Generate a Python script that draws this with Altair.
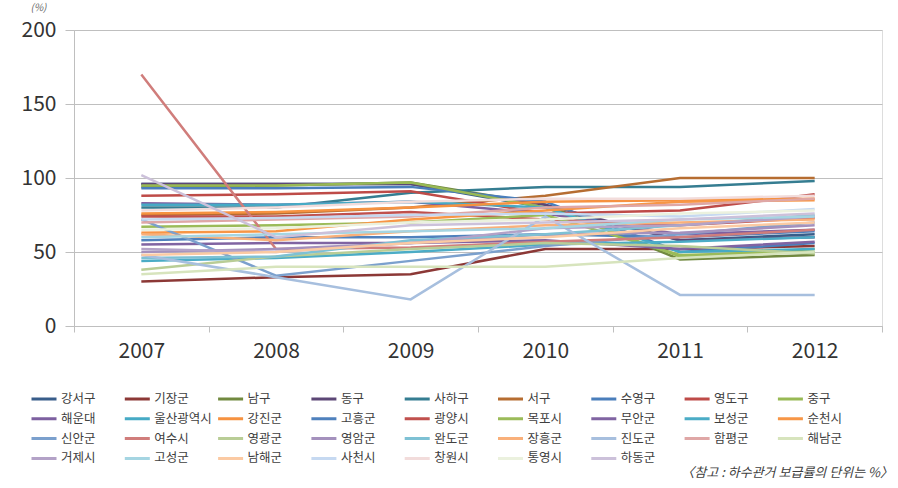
import altair as alt
import pandas as pd

years = ["2007", "2008", "2009", "2010", "2011", "2012"]

names = ["강서구", "기장군", "남구", "동구", "사하구", "서구", "수영구", "영도구", "중구",
         "해운대", "울산광역시", "강진군", "고흥군", "광양시", "목포시", "무안군", "보성군", "순천시",
         "신안군", "여수시", "영광군", "영암군", "완도군", "장흥군", "진도군", "함평군", "해남군",
         "거제시", "고성군", "남해군", "사천시", "창원시", "통영시", "하동군"]

colors = ["#385D8A", "#8C3836", "#71893F", "#5C4776", "#357D91", "#B66D31", "#4A7EBB", "#BE4B48", "#98B954",
          "#7D60A0", "#46AAC5", "#F69240", "#4F81BD", "#C0504D", "#9BBB59", "#8064A2", "#4BACC6", "#F79646",
          "#7BA0CD", "#D07D7B", "#B9CD96", "#A491BD", "#7EC1D4", "#F9B07A", "#A7BFDE", "#DFA7A6", "#D7E4BD",
          "#B3A2C7", "#A5D5E2", "#FBCAA3", "#C6D9F1", "#F2DCDB", "#EBF1DE", "#CCC1DA"]

values = [
    [96, 96, 96, 80, 58, 62],    # 강서구
    [30, 33, 35, 52, 52, 54],    # 기장군
    [94, 95, 97, 82, 45, 48],    # 남구
    [96, 96, 96, 82, 58, 60],    # 동구
    [80, 80, 90, 94, 94, 98],    # 사하구
    [75, 76, 80, 88, 100, 100],  # 서구
    [93, 93, 94, 84, 50, 56],    # 수영구
    [88, 89, 91, 76, 78, 89],    # 영도구
    [95, 95, 97, 80, 47, 52],    # 중구
    [83, 82, 84, 76, 62, 65],    # 해운대
    [82, 82, 84, 80, 50, 52],    # 울산광역시
    [76, 77, 80, 84, 85, 86],    # 강진군
    [58, 60, 60, 62, 60, 64],    # 고흥군
    [74, 74, 77, 72, 68, 73],    # 광양시
    [67, 68, 70, 75, 48, 50],    # 목포시
    [55, 56, 56, 58, 52, 57],    # 무안군
    [44, 46, 50, 55, 57, 60],    # 보성군
    [63, 64, 72, 78, 84, 85],    # 순천시
    [72, 34, 44, 54, 62, 70],    # 신안군
    [170, 52, 53, 57, 60, 65],   # 여수시
    [38, 47, 52, 56, 54, 49],    # 영광군
    [50, 52, 56, 62, 63, 68],    # 영암군
    [46, 47, 58, 62, 68, 75],    # 완도군
    [62, 58, 64, 68, 70, 72],    # 장흥군
    [48, 33, 18, 74, 21, 21],    # 진도군
    [70, 72, 74, 80, 82, 86],    # 함평군
    [35, 40, 40, 40, 46, 50],    # 해남군
    [52, 50, 56, 66, 68, 74],    # 거제시
    [60, 62, 64, 66, 72, 74],    # 고성군
    [48, 50, 56, 60, 66, 70],    # 남해군
    [72, 73, 75, 76, 74, 79],    # 사천시
    [78, 80, 84, 86, 86, 88],    # 창원시
    [65, 66, 70, 72, 76, 78],    # 통영시
    [102, 60, 68, 70, 72, 76],   # 하동군
]

y_ticks = [0, 50, 100, 150, 200]
note_text = ["〈참고 : 하수관거 보급률의 단위는 %〉"]

rows = []
for i, n in enumerate(names):
    for j, yv in enumerate(years):
        rows.append({"name": n, "order": i, "year": yv, "value": values[i][j]})
df = pd.DataFrame(rows)

FONT = "Noto Sans CJK KR"
GRAY = "#BFBFBF"

lines = alt.Chart(df).mark_line(strokeWidth=2.5).encode(
    x=alt.X("year:O", bandPosition=0.5,
            scale=alt.Scale(type="band", paddingInner=0, paddingOuter=0),
            axis=alt.Axis(title=None, labelAngle=0, tickBand="extent", tickSize=6,
                          tickColor=GRAY, domainColor=GRAY, labelFontSize=21,
                          labelColor="#333333", labelFont=FONT, labelPadding=8, grid=False)),
    y=alt.Y("value:Q", scale=alt.Scale(domain=[0, 200], nice=False),
            axis=alt.Axis(values=y_ticks, title="(%)", titleAngle=0, titleX=-36, titleY=-18,
                          titleFontSize=10, titleFontStyle="italic", titleFontWeight="normal",
                          titleColor="#666666", titleFont=FONT,
                          tickSize=9, tickColor=GRAY, domainColor=GRAY, gridColor=GRAY,
                          labelFontSize=21, labelColor="#333333", labelFont=FONT, labelPadding=9)),
    color=alt.Color("name:N", sort=names,
                    scale=alt.Scale(domain=names, range=colors),
                    legend=alt.Legend(title=None, orient="none", legendX=-44, legendY=361,
                                      columns=9, direction="horizontal", symbolLimit=0,
                                      symbolType="stroke", symbolSize=625,
                                      symbolStrokeWidth=3, labelFont=FONT, labelFontSize=12.5,
                                      labelColor="#404040", labelOffset=3, gridAlign="all",
                                      columnPadding=4.3, rowPadding=3.8, clipHeight=16,
                                      labelLimit=200)),
    order=alt.Order("order:Q"),
)

note = alt.Chart(pd.DataFrame({"t": note_text})).mark_text(
    font=FONT, fontSize=13, fontStyle="italic", color="#404040", align="right", baseline="middle"
).encode(text="t:N", x=alt.value(819), y=alt.value(443))

chart = alt.layer(lines, note).properties(
    width=808, height=296,
    autosize=alt.AutoSizeParams(type="none"),
    padding={"left": 74, "top": 30, "right": 16, "bottom": 162},
).configure_view(stroke=None).configure(background="white")

chart.save("out.html", embed_options={"renderer": "svg", "actions": False})
